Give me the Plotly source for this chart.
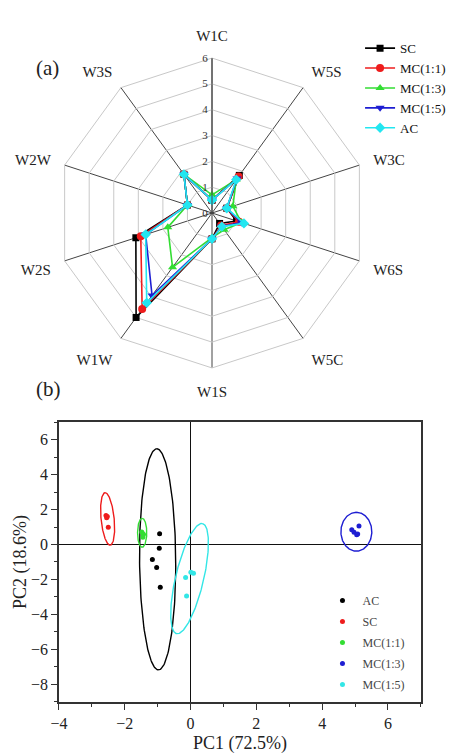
import numpy as np
import plotly.graph_objects as go

# ---------------- Radar (a) data ----------------
radar_axes = ["W1C", "W5S", "W3C", "W6S", "W5C", "W1S", "W1W", "W2S", "W2W", "W3S"]
radar_sc = [0.5, 1.8, 0.6, 1.0, 0.5, 1.0, 5.0, 3.1, 1.0, 1.85]
radar_mc11 = [0.5, 1.75, 0.6, 1.1, 0.6, 1.0, 4.6, 2.9, 1.0, 1.85]
radar_mc13 = [0.7, 1.6, 0.85, 1.2, 0.8, 0.95, 2.6, 1.8, 1.0, 1.85]
radar_mc15 = [0.5, 1.65, 0.6, 1.2, 0.65, 1.0, 3.95, 2.7, 1.0, 1.85]
radar_ac = [0.5, 1.6, 0.6, 1.3, 0.65, 1.0, 4.3, 2.7, 1.0, 1.85]

# ---------------- PCA (b) data ----------------
pca_names = ["AC", "SC", "MC(1:1)", "MC(1:3)", "MC(1:5)"]
pca_ac_x = [-0.94, -0.95, -1.16, -1.03, -0.92]
pca_ac_y = [0.61, -0.21, -0.86, -1.32, -2.44]
pca_sc_x = [-2.57, -2.53, -2.55, -2.50]
pca_sc_y = [1.66, 1.60, 1.53, 0.99]
pca_mc11_x = [-1.48, -1.45, -1.43, -1.45]
pca_mc11_y = [0.71, 0.62, 0.57, 0.42]
pca_mc13_x = [4.90, 4.97, 5.05, 5.12, 5.08]
pca_mc13_y = [0.84, 0.70, 0.55, 1.05, 0.60]
pca_mc15_x = [0.01, 0.09, -0.15, -0.12]
pca_mc15_y = [-1.58, -1.64, -1.89, -2.94]

# confidence ellipses: centre and two conjugate semi-axis vectors (data units)
ell_cx = [-1.00, -2.52, -1.47, 5.04, -0.03]
ell_cy = [-0.85, 1.46, 0.67, 0.73, -1.95]
ell_ax = [-0.025, -0.075, 0.0, 0.0, 0.395]
ell_ay = [6.32, 1.50, 0.83, 1.11, 3.145]
ell_bx = [0.55, 0.20, 0.14, 0.47, 0.415]
ell_by = [0.0, 0.0, 0.0, 0.0, -0.183]

SERIF = "Liberation Serif"

fig = go.Figure()

radar_series = [
    ("SC", radar_sc, "#000000", "square", 7),
    ("MC(1:1)", radar_mc11, "#ee1c1c", "circle", 8),
    ("MC(1:3)", radar_mc13, "#33dd33", "triangle-up", 8),
    ("MC(1:5)", radar_mc15, "#1e1ed2", "triangle-down", 8),
    ("AC", radar_ac, "#22e6f0", "diamond", 8),
]
for name, vals, col, sym, sz in radar_series:
    fig.add_trace(go.Scatterpolar(
        r=vals + vals[:1], theta=radar_axes + radar_axes[:1],
        mode="lines+markers", name=name,
        line=dict(color=col, width=1.6),
        marker=dict(symbol=sym, size=sz, color=col),
        legend="legend",
    ))

pca_cols = ["#000000", "#ee1c1c", "#33dd33", "#1e1ed2", "#33e6e6"]
pca_xs = [pca_ac_x, pca_sc_x, pca_mc11_x, pca_mc13_x, pca_mc15_x]
pca_ys = [pca_ac_y, pca_sc_y, pca_mc11_y, pca_mc13_y, pca_mc15_y]
t = np.linspace(0, 2 * np.pi, 181)
for i in range(5):
    ex = ell_cx[i] + ell_ax[i] * np.cos(t) + ell_bx[i] * np.sin(t)
    ey = ell_cy[i] + ell_ay[i] * np.cos(t) + ell_by[i] * np.sin(t)
    fig.add_trace(go.Scatter(x=ex, y=ey, mode="lines", line=dict(color=pca_cols[i], width=1.4),
                             showlegend=False, hoverinfo="skip", xaxis="x", yaxis="y"))
for i in range(5):
    fig.add_trace(go.Scatter(x=pca_xs[i], y=pca_ys[i], mode="markers", name=pca_names[i],
                             marker=dict(color=pca_cols[i], size=5),
                             legend="legend2", legendgroup=pca_names[i], xaxis="x", yaxis="y"))

fig.update_layout(
    width=464, height=754,
    margin=dict(l=0, r=0, t=0, b=0, autoexpand=False),
    paper_bgcolor="white", plot_bgcolor="white",
    font=dict(family=SERIF, color="#222"),
    polar=dict(
        domain=dict(x=[0.1228, 0.791], y=[0.512, 0.923]),
        gridshape="linear", bgcolor="white",
        angularaxis=dict(direction="clockwise", rotation=90, showgrid=True,
                         gridcolor="#444", gridwidth=1, linecolor="#c8c8c8", linewidth=1,
                         ticks="outside", ticklen=11, tickcolor="rgba(0,0,0,0)",
                         tickfont=dict(family=SERIF, size=15, color="#222")),
        radialaxis=dict(range=[0, 6], dtick=1, angle=90, tickangle=90, showline=True,
                        linecolor="#444", gridcolor="#c8c8c8", ticks="", side="counterclockwise",
                        tickfont=dict(family=SERIF, size=11, color="#333")),
    ),
    legend=dict(x=0.776, y=0.956, xanchor="left", yanchor="top", bgcolor="rgba(0,0,0,0)",
                font=dict(family=SERIF, size=13, color="#111"), itemwidth=30,
                tracegroupgap=0),
    legend2=dict(x=0.695, y=0.2228, xanchor="left", yanchor="top", bgcolor="rgba(0,0,0,0)",
                 font=dict(family=SERIF, size=12, color="#444"), tracegroupgap=2, itemwidth=30),
    xaxis=dict(domain=[0.127, 0.907], range=[-4, 7], dtick=2, showgrid=False, automargin=False,
               ticks="outside", ticklen=6, tickwidth=1.2, tickcolor="#333",
               minor=dict(dtick=1, ticks="outside", ticklen=3, tickcolor="#333"),
               showline=True, mirror=True, linecolor="#333", linewidth=1.5,
               zeroline=True, zerolinecolor="#111", zerolinewidth=1.2,
               tickfont=dict(family=SERIF, size=16, color="#222"),
               title=dict(text="PC1 (72.5%)", font=dict(family=SERIF, size=18, color="#222"), standoff=16),
               anchor="y"),
    yaxis=dict(domain=[0.069, 0.4403], range=[-9, 7], dtick=2, showgrid=False, automargin=False,
               ticks="outside", ticklen=6, tickwidth=1.2, tickcolor="#333",
               minor=dict(dtick=1, ticks="outside", ticklen=3, tickcolor="#333"),
               showline=True, mirror=True, linecolor="#333", linewidth=1.5,
               zeroline=True, zerolinecolor="#111", zerolinewidth=1.2,
               tickfont=dict(family=SERIF, size=16, color="#222"),
               title=dict(text="PC2 (18.6%)", font=dict(family=SERIF, size=18, color="#222"), standoff=0),
               anchor="x"),
    annotations=[
        dict(text="(a)", x=47 / 464, y=1 - 68 / 754, xref="paper", yref="paper",
             xanchor="center", yanchor="middle",
             showarrow=False, font=dict(family=SERIF, size=21, color="#222")),
        dict(text="(b)", x=48 / 464, y=1 - 389 / 754, xref="paper", yref="paper",
             xanchor="center", yanchor="middle",
             showarrow=False, font=dict(family=SERIF, size=21, color="#222")),
    ],
)

fig.write_html("out.html", config={"displayModeBar": False},
               post_script="document.body.style.margin='0';document.body.style.padding='0';")
